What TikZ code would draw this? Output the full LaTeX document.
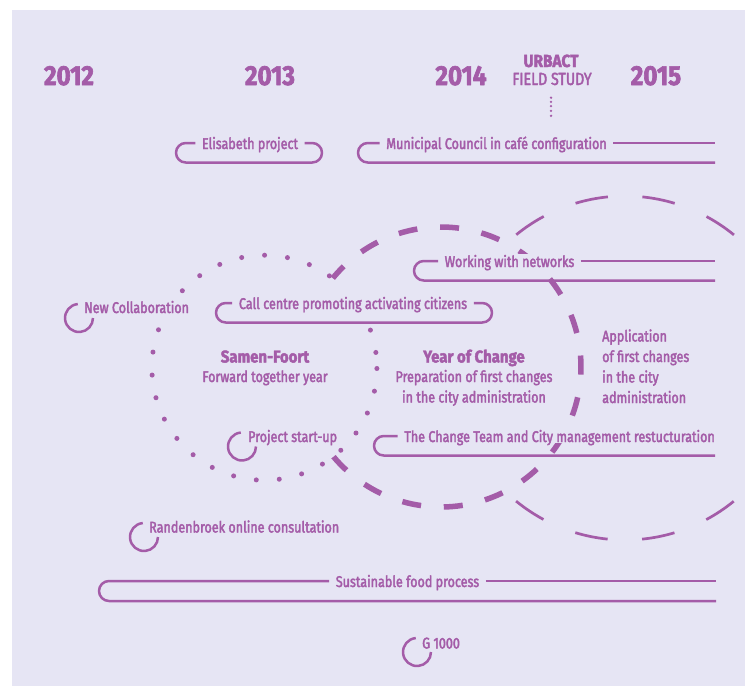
\documentclass[tikz,border=0pt]{standalone}
\usepackage{fontspec}
\setmainfont{Fira Sans}[FakeStretch=0.81, RawFeature={embolden=2.4},
  BoldFeatures={FakeStretch=0.88}]
\usetikzlibrary{positioning}

\definecolor{urbviolet}{RGB}{164,92,168}
\definecolor{urbback}{RGB}{230,229,244}

\tikzset{
  lbl/.style={font=\fontsize{15.5}{18}\selectfont, text=urbviolet, fill=urbback,
    inner xsep=6.5pt, inner ysep=1pt, text height=12pt, text depth=0pt},
  ringlbl/.style={font=\fontsize{15.5}{18}\selectfont, text=urbviolet, fill=urbback,
    inner sep=1pt, anchor=base west},
  txt/.style={font=\fontsize{15.5}{18}\selectfont, text=urbviolet, inner sep=0pt, anchor=base},
  head/.style={font=\fontsize{17}{20}\selectfont\bfseries, text=urbviolet, inner sep=0pt, anchor=base},
  yearlbl/.style={font=\fontsize{27.5}{30}\selectfont\bfseries, text=urbviolet, inner sep=0pt, anchor=base},
  bracket/.style={draw=urbviolet, line width=2.5pt},
  ring/.style={draw=urbviolet, line width=2.5pt},
}

\begin{document}
\begin{tikzpicture}[x=1pt, y=1pt, line join=round]
        % frame
        \useasboundingbox (0,0) rectangle (745,-686);
        \clip (0,0) rectangle (745,-686);
        \fill[urbback] (12,-10) rectangle (745,-686);

        % application circle: thin dashes
        \def\ax{625} \def\ay{-368} \def\ar{172}
        \foreach \k in {0,...,15}{
            \pgfmathsetmacro{\sa}{56.2+22.5*\k-5.5}
            \pgfmathsetmacro{\ea}{56.2+22.5*\k+5.5}
            \draw[urbviolet, line width=2.7pt] ({\ax+\ar*cos(\sa)},{\ay+\ar*sin(\sa)})
                arc[start angle=\sa, end angle=\ea, radius=\ar];
        }

        % year of change circle: thick dashes, hides the thin one inside
        \def\bx{441} \def\by{-367} \def\br{140}
        \fill[urbback] (\bx,\by) circle (\br);
        \foreach \k in {0,...,20}{
            \pgfmathsetmacro{\sa}{0.8+17.14*\k-3.9}
            \pgfmathsetmacro{\ea}{0.8+17.14*\k+3.9}
            \draw[urbviolet, line width=5.5pt] ({\bx+\br*cos(\sa)},{\by+\br*sin(\sa)})
                arc[start angle=\sa, end angle=\ea, radius=\br];
        }

        % samen-foort circle: dots, hides the thick one inside
        \def\cx{264.4} \def\cy{-367.7} \def\cr{112.5}
        \fill[urbback] (\cx,\cy) circle (\cr);
        \foreach \k in {0,1,4,5,...,11,13,14,...,29}{
            \pgfmathsetmacro{\a}{7.8+11.73*\k}
            \fill[urbviolet] ({\cx+\cr*cos(\a)},{\cy+\cr*sin(\a)}) circle (2.5);
        }
        \fill[urbviolet] ({\cx+\cr*cos(-0.4)},{\cy+\cr*sin(-0.4)}) circle (2.5);

        % years
        \node[yearlbl] (y2012) at (69,-85) {2012};
        \node[yearlbl] (y2013) at (270,-85) {2013};
        \node[yearlbl] (y2014) at (461,-85) {2014};
        \node[yearlbl] (y2015) at (656,-85) {2015};
        \node[head, font=\fontsize{17.5}{20}\selectfont\bfseries] (urbact) at (551,-67) {URBACT};
        \node[txt, font=\fontsize{17.5}{20}\selectfont] (field) at (552,-85) {FIELD STUDY};
        \foreach \y in {97.7,101.9,106.1,110.9,115.8}
            \fill[urbviolet] (551,-\y) circle (1.3);

        % bracketed processes
        \node[lbl] (elis) at (250,-143) {Elisabeth project};
        \draw[bracket] (elis.west) -- (185.75,-143) arc[start angle=90, end angle=270, radius=9.75]
            -- (312.25,-162.5) arc[start angle=-90, end angle=90, radius=9.75] -- (elis.east);

        \node[lbl] (muni) at (496.5,-143) {Municipal Council in café configuration};
        \draw[bracket] (muni.west) -- (367.75,-143) arc[start angle=90, end angle=270, radius=9.75]
            -- (715,-162.5);
        \draw[bracket] (muni.east) -- (715,-143);

        \node[lbl] (netw) at (509.5,-261) {Working with networks};
        \draw[bracket] (netw.west) -- (423.75,-261) arc[start angle=90, end angle=270, radius=9.75]
            -- (715,-280.5);
        \draw[bracket] (netw.east) -- (715,-261);

        \node[lbl] (callc) at (353,-303) {Call centre promoting activating citizens};
        \draw[bracket] (callc.west) -- (225.75,-303) arc[start angle=90, end angle=270, radius=9.75]
            -- (482.25,-322.5) arc[start angle=-90, end angle=90, radius=9.75] -- (callc.east);

        \node[lbl, anchor=east] (chteam) at (721.5,-436) {The Change Team and City management restucturation};
        \draw[bracket] (chteam.west) -- (383.75,-436) arc[start angle=90, end angle=270, radius=9.75]
            -- (715,-455.5);

        \node[lbl] (food) at (407.5,-581) {Sustainable food process};
        \draw[bracket] (food.west) -- (109,-581) arc[start angle=90, end angle=270, radius=10]
            -- (716,-601);
        \draw[bracket] (food.east) -- (716,-581);

        % single events
        \node[ringlbl] (ncollab) at (83,-313) {New Collaboration};
        \draw[ring] (79,-318) ++(95:14) arc[start angle=95, end angle=360, radius=14];
        \node[ringlbl] (startup) at (247,-442) {Project start-up};
        \draw[ring] (242,-446.5) ++(95:14) arc[start angle=95, end angle=360, radius=14];
        \node[ringlbl] (randen) at (148,-532.5) {Randenbroek online consultation};
        \draw[ring] (144,-537) ++(95:14) arc[start angle=95, end angle=360, radius=14];
        \node[ringlbl] (gthousand) at (421,-648.5) {G 1000};
        \draw[ring] (417,-652) ++(95:14) arc[start angle=95, end angle=360, radius=14];

        % circle texts
        \node[head] (samen) at (265,-362.5) {Samen-Foort};
        \node[txt] (samensub) at (265,-382) {Forward together year};
        \node[head] (change) at (474,-362.5) {Year of Change};
        \node[txt] (changea) at (474,-382) {Preparation of first changes};
        \node[txt] (changeb) at (474,-402.5) {in the city administration};
        \node[txt, anchor=base west] (applica) at (602,-341.5) {Application};
        \node[txt, anchor=base west] (applicb) at (602,-362) {of first changes};
        \node[txt, anchor=base west] (applicc) at (602,-382.5) {in the city};
        \node[txt, anchor=base west] (applicd) at (602,-403) {administration};
\end{tikzpicture}
\end{document}
